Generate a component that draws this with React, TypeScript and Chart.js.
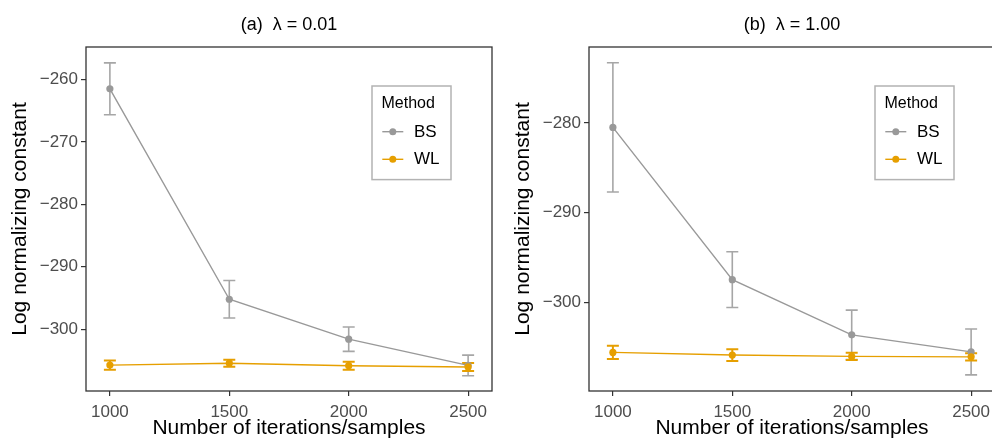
import React, { useEffect, useRef } from "react";
import { Chart, registerables } from "chart.js";

Chart.register(...registerables);

const iterations = [1000, 1500, 2000, 2500];
const methods = ["BS", "WL"];
const methodColors = ["#999999", "#E69F00"];
const errorColors = ["#A6A6A6", "#E69F00"];
const panelTitles = ["(a)  λ = 0.01", "(b)  λ = 1.00"];
const legendTitle = "Method";
const xTitle = "Number of iterations/samples";
const yTitle = "Log normalizing constant";

// Panel (a) λ = 0.01
const bsMeanA = [-261.5, -295.2, -301.6, -305.8];
const bsErrA = [4.15, 3.0, 1.95, 1.65];
const wlMeanA = [-305.75, -305.45, -305.85, -306.05];
const wlErrA = [0.75, 0.55, 0.65, 0.65];

// Panel (b) λ = 1.00
const bsMeanB = [-280.5, -297.45, -303.6, -305.5];
const bsErrB = [7.2, 3.1, 2.75, 2.55];
const wlMeanB = [-305.55, -305.85, -306.0, -306.05];
const wlErrB = [0.75, 0.65, 0.4, 0.4];

const xTicks = [1000, 1500, 2000, 2500];
const yTicksA = [-300, -290, -280, -270, -260];
const yTicksB = [-300, -290, -280];
const xRange = [900, 2600];
const yRangeA = [-309.9, -254.8];
const yRangeB = [-309.85, -271.55];

const FONT = "'Liberation Sans', Arial, Helvetica, sans-serif";

const errorBarsPlugin = {
  id: "errorBars",
  beforeDatasetsDraw(chart: any, _args: any, opts: any) {
    const { ctx } = chart;
    const xs = chart.scales.x;
    const ys = chart.scales.y;
    const errs: number[][] = opts.errors || [];
    chart.data.datasets.forEach((ds: any, i: number) => {
      const err = errs[i];
      if (!err) return;
      ctx.save();
      ctx.strokeStyle = errorColors[i];
      ctx.lineWidth = i === 0 ? 1.6 : 2;
      ds.data.forEach((p: any, j: number) => {
        const x = xs.getPixelForValue(p.x);
        const yHi = ys.getPixelForValue(p.y + err[j]);
        const yLo = ys.getPixelForValue(p.y - err[j]);
        const hw = 6;
        ctx.beginPath();
        ctx.moveTo(x, yHi);
        ctx.lineTo(x, yLo);
        ctx.moveTo(x - hw, yHi);
        ctx.lineTo(x + hw, yHi);
        ctx.moveTo(x - hw, yLo);
        ctx.lineTo(x + hw, yLo);
        ctx.stroke();
      });
      ctx.restore();
    });
  },
};

const framePlugin = {
  id: "frame",
  afterDatasetsDraw(chart: any) {
    const { ctx, chartArea: a } = chart;
    ctx.save();
    ctx.strokeStyle = "#333333";
    ctx.lineWidth = 1.3;
    ctx.strokeRect(a.left, a.top, a.right - a.left, a.bottom - a.top);
    ctx.restore();
  },
};

const methodLegendPlugin = {
  id: "methodLegend",
  afterDraw(chart: any) {
    const { ctx, chartArea: a } = chart;
    const w = 79;
    const h = 93.6;
    const x0 = a.right - 41 - w;
    const y0 = a.top + 39;
    ctx.save();
    ctx.fillStyle = "#ffffff";
    ctx.fillRect(x0, y0, w, h);
    ctx.strokeStyle = "#B3B3B3";
    ctx.lineWidth = 1.5;
    ctx.strokeRect(x0, y0, w, h);
    ctx.fillStyle = "#000000";
    ctx.textBaseline = "middle";
    ctx.textAlign = "left";
    ctx.font = `16px ${FONT}`;
    ctx.fillText(legendTitle, x0 + 9.5, a.top + 57);
    chart.data.datasets.forEach((ds: any, i: number) => {
      const cy = a.top + 84.7 + i * 27.6;
      ctx.strokeStyle = ds.borderColor;
      ctx.lineWidth = 1.4;
      ctx.beginPath();
      ctx.moveTo(x0 + 10.3, cy);
      ctx.lineTo(x0 + 31.3, cy);
      ctx.stroke();
      ctx.fillStyle = ds.pointBackgroundColor;
      ctx.beginPath();
      ctx.arc(x0 + 20.8, cy, 3.5, 0, Math.PI * 2);
      ctx.fill();
      ctx.fillStyle = "#000000";
      ctx.font = `17px ${FONT}`;
      ctx.fillText(ds.label, x0 + 42, cy + 0.5);
    });
    ctx.restore();
  },
};

function makeConfig(
  title: string,
  bsMean: number[],
  bsErr: number[],
  wlMean: number[],
  wlErr: number[],
  yTicks: number[],
  yRange: number[]
): any {
  const means = [bsMean, wlMean];
  return {
    type: "line",
    data: {
      datasets: methods.map((m, i) => ({
        label: m,
        data: iterations.map((x, j) => ({ x, y: means[i][j] })),
        borderColor: methodColors[i],
        backgroundColor: methodColors[i],
        pointBackgroundColor: methodColors[i],
        pointBorderWidth: 0,
        pointRadius: 3.6,
        borderWidth: 1.4,
        tension: 0,
        fill: false,
        order: i === 0 ? 1 : 0,
      })),
    },
    plugins: [errorBarsPlugin, framePlugin, methodLegendPlugin],
    options: {
      responsive: false,
      animation: false,
      devicePixelRatio: 1,
      layout: { padding: { left: 0, right: 4, top: 0, bottom: 0 } },
      plugins: {
        legend: { display: false },
        tooltip: { enabled: false },
        title: {
          display: true,
          text: title,
          fullSize: false,
          color: "#000000",
          font: { size: 18, family: FONT, weight: "normal", lineHeight: 1.2 },
          padding: { top: 14, bottom: 11.4 },
        },
        errorBars: { errors: [bsErr, wlErr] },
      },
      scales: {
        x: {
          type: "linear",
          min: xRange[0],
          max: xRange[1],
          afterBuildTicks: (s: any) => {
            s.ticks = xTicks.map((v) => ({ value: v }));
          },
          afterFit: (s: any) => {
            s.height = 48;
          },
          ticks: {
            color: "#4D4D4D",
            font: { size: 17, family: FONT },
            padding: 6,
            maxRotation: 0,
            callback: (v: any) => String(v),
          },
          grid: {
            drawOnChartArea: false,
            drawTicks: true,
            tickLength: 5,
            color: "#333333",
            lineWidth: 1.2,
          },
          border: { display: false },
          title: {
            display: true,
            text: xTitle,
            color: "#000000",
            font: { size: 21, family: FONT, lineHeight: 1 },
            padding: { top: 0, bottom: 0.3 },
          },
        },
        y: {
          type: "linear",
          min: yRange[0],
          max: yRange[1],
          afterBuildTicks: (s: any) => {
            s.ticks = yTicks.map((v) => ({ value: v }));
          },
          afterFit: (s: any) => {
            s.width = 86;
          },
          ticks: {
            color: "#4D4D4D",
            font: { size: 17, family: FONT },
            padding: 3,
            callback: (v: any) => (v < 0 ? "\u2212" + Math.abs(v) : String(v)),
          },
          grid: {
            drawOnChartArea: false,
            drawTicks: true,
            tickLength: 5,
            color: "#333333",
            lineWidth: 1.2,
          },
          border: { display: false },
          title: {
            display: true,
            text: yTitle,
            color: "#000000",
            font: { size: 21, family: FONT, lineHeight: 1 },
            padding: { top: 10, bottom: 0 },
          },
        },
      },
    },
  };
}

export default function App() {
  const leftRef = useRef<HTMLCanvasElement>(null);
  const rightRef = useRef<HTMLCanvasElement>(null);

  useEffect(() => {
    const charts: Chart[] = [];
    if (leftRef.current) {
      charts.push(
        new Chart(
          leftRef.current,
          makeConfig(panelTitles[0], bsMeanA, bsErrA, wlMeanA, wlErrA, yTicksA, yRangeA)
        )
      );
    }
    if (rightRef.current) {
      charts.push(
        new Chart(
          rightRef.current,
          makeConfig(panelTitles[1], bsMeanB, bsErrB, wlMeanB, wlErrB, yTicksB, yRangeB)
        )
      );
    }
    return () => charts.forEach((c) => c.destroy());
  }, []);

  return (
    <div
      style={{
        position: "fixed",
        left: 0,
        top: 0,
        width: 992,
        height: 439,
        overflow: "hidden",
        background: "#ffffff",
      }}
    >
      <canvas
        ref={leftRef}
        width={496}
        height={439}
        style={{ position: "absolute", left: 0, top: 0, width: 496, height: 439 }}
      />
      <canvas
        ref={rightRef}
        width={496}
        height={439}
        style={{ position: "absolute", left: 503, top: 0, width: 496, height: 439 }}
      />
    </div>
  );
}
